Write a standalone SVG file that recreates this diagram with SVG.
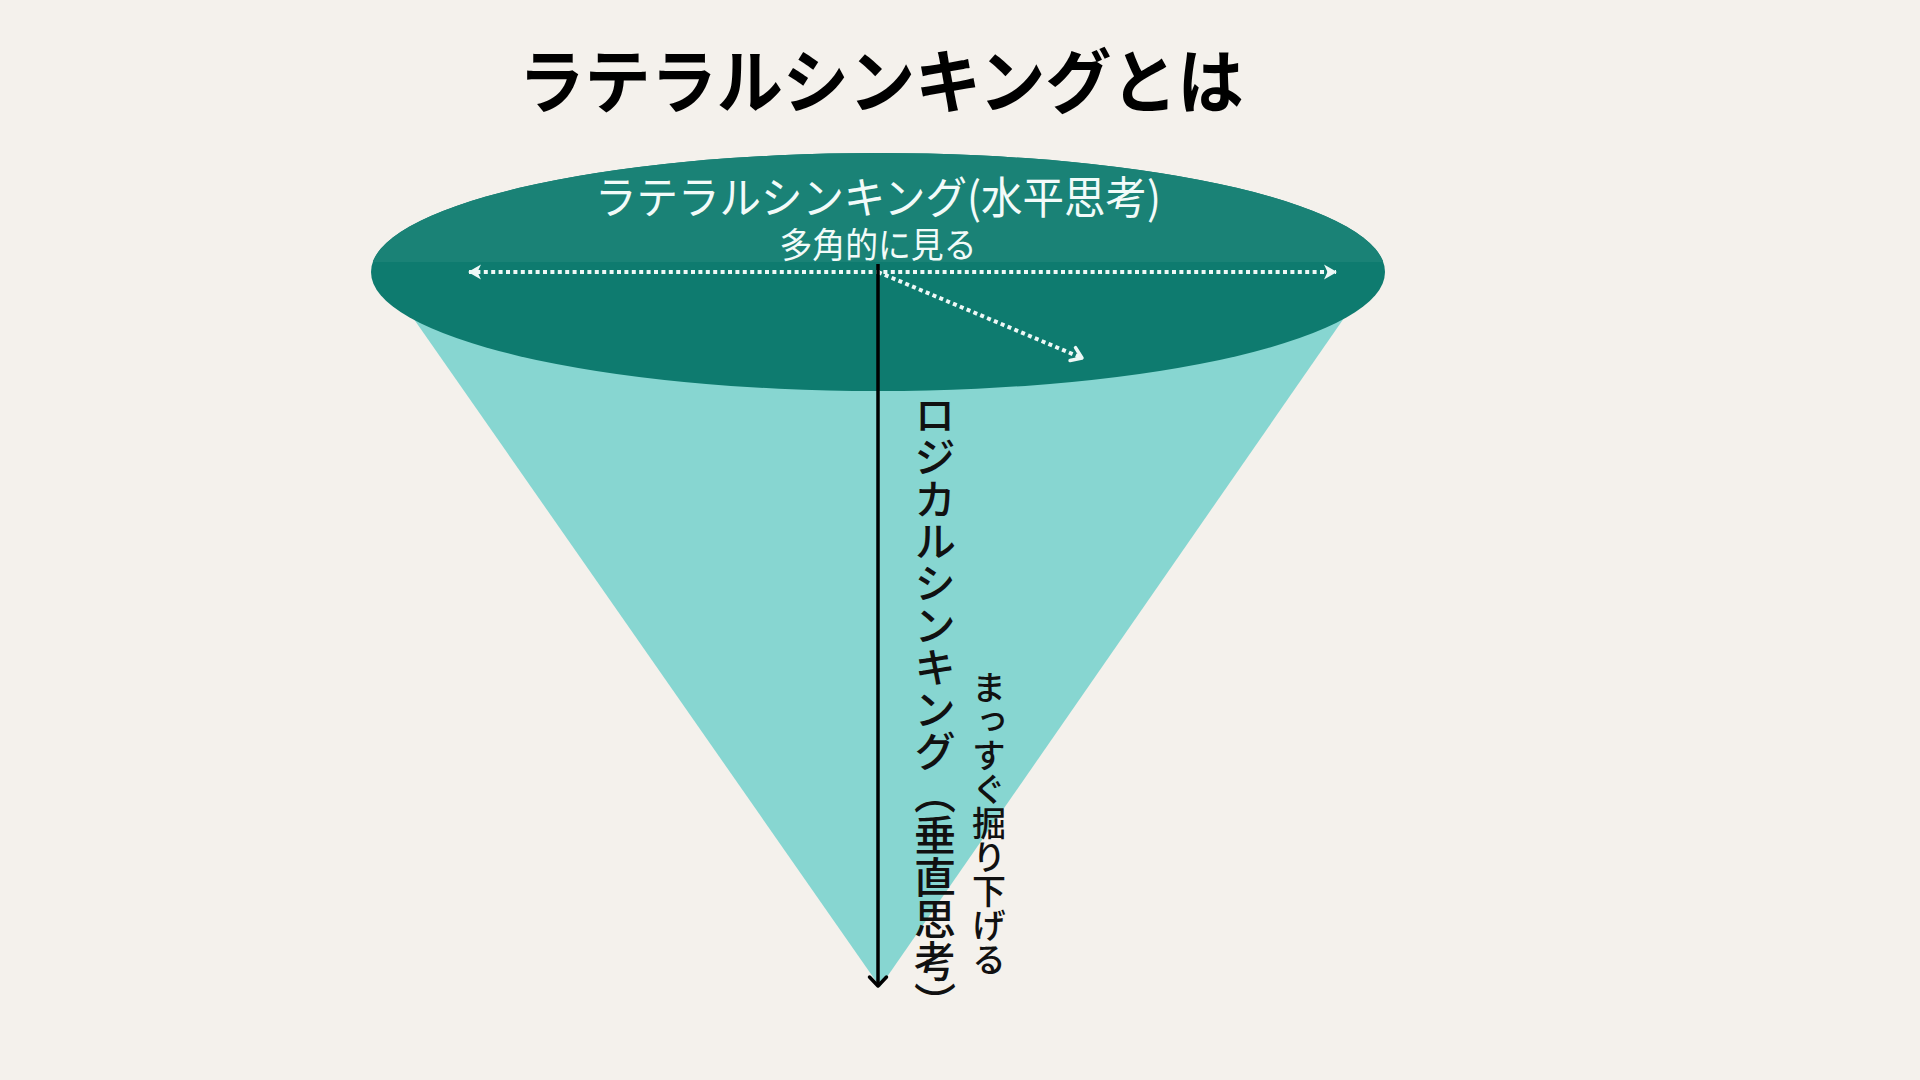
<svg xmlns="http://www.w3.org/2000/svg" width="1920" height="1080" viewBox="0 0 1920 1080">
  <style>
    .jp { font-family: "Noto Sans CJK JP", "Noto Sans CJK SC", sans-serif; }
    .title { font-size: 70px; font-weight: 700; fill: #000000; }
    .white { fill: #f2fbf9; }
    .vert { writing-mode: vertical-rl; fill: #111111; font-weight: 500; }
    .dotted { stroke: #eef8f6; stroke-width: 4; stroke-dasharray: 4 3.4; fill: none; }
    .axis { stroke: #000000; stroke-width: 3.5; fill: none; }
  </style>
  <defs>
    <clipPath id="diskClip">
      <ellipse cx="878" cy="272" rx="507" ry="119"/>
    </clipPath>
    <marker id="headFilled" markerUnits="userSpaceOnUse" markerWidth="20" markerHeight="20" refX="0" refY="0" viewBox="-14 -10 16 20" orient="auto-start-reverse">
      <path d="M1,0 L-12,-7.5 L-8.5,0 L-12,7.5 Z" fill="#eef8f6"/>
    </marker>
    <marker id="headOpenWhite" markerUnits="userSpaceOnUse" markerWidth="20" markerHeight="20" refX="0" refY="0" viewBox="-14 -10 16 20" orient="auto">
      <path d="M-10,-7 L0,0 L-10,7" fill="none" stroke="#eef8f6" stroke-width="3.5" stroke-linecap="round" stroke-linejoin="round"/>
    </marker>
    <marker id="headOpenBlack" markerUnits="userSpaceOnUse" markerWidth="24" markerHeight="24" refX="0" refY="0" viewBox="-14 -12 16 24" orient="auto">
      <path d="M-9,-8.5 L0,0 L-9,8.5" fill="none" stroke="#000000" stroke-width="3.5" stroke-linecap="round" stroke-linejoin="round"/>
    </marker>
  </defs>

  <rect x="0" y="0" width="1920" height="1080" fill="#f4f1ec"/>

  <g id="title">
    <text class="jp title" x="881" y="108" text-anchor="middle" textLength="725" lengthAdjust="spacingAndGlyphs">ラテラルシンキングとは</text>
  </g>

  <g id="cone">
    <polygon points="381,272 1376,272 880,987" fill="#87d6d1"/>
  </g>

  <g id="disk">
    <ellipse cx="878" cy="272" rx="507" ry="119" fill="#0e7b6f"/>
    <rect x="360" y="150" width="1040" height="112" fill="#1a8276" clip-path="url(#diskClip)"/>
  </g>

  <g id="lateral-label">
    <text class="jp white" x="878" y="214" font-size="44" text-anchor="middle" textLength="566" lengthAdjust="spacingAndGlyphs">ラテラルシンキング(水平思考)</text>
    <text class="jp white" x="878" y="258" font-size="35" text-anchor="middle" textLength="197" lengthAdjust="spacingAndGlyphs">多角的に見る</text>
  </g>

  <g id="connectors">
    <line class="dotted" x1="469" y1="272" x2="1336" y2="272" marker-start="url(#headFilled)" marker-end="url(#headFilled)"/>
    <line class="dotted" x1="878" y1="272" x2="1082" y2="358" marker-end="url(#headOpenWhite)"/>
    <line class="axis" x1="878" y1="264" x2="878" y2="986" marker-end="url(#headOpenBlack)"/>
  </g>

  <g id="logical-label">
    <text class="jp vert" x="935" y="394" font-size="42">ロジカルシンキング（垂直思考）</text>
    <text class="jp vert" x="989" y="670" font-size="34">まっすぐ掘り下げる</text>
  </g>
</svg>
